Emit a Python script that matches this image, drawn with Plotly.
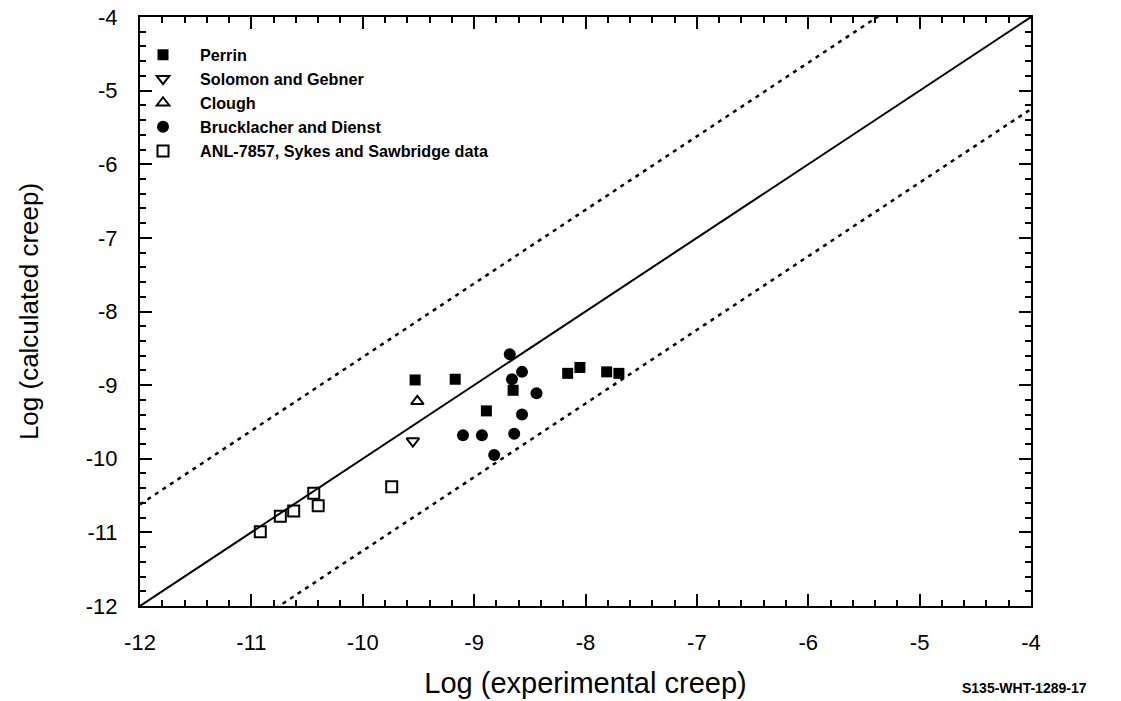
import plotly.graph_objects as go

# ---- data (log10 values) ----
perrin_x = [-9.53, -9.17, -8.89, -8.65, -8.16, -8.05, -7.81, -7.70]
perrin_y = [-8.93, -8.92, -9.35, -9.07, -8.84, -8.76, -8.82, -8.84]

solomon_x = [-9.55]
solomon_y = [-9.76]

clough_x = [-9.51]
clough_y = [-9.22]

bruck_x = [-8.68, -8.57, -8.66, -8.44, -8.57, -9.10, -8.93, -8.64, -8.82]
bruck_y = [-8.58, -8.82, -8.92, -9.11, -9.40, -9.68, -9.68, -9.66, -9.95]

anl_x = [-10.92, -10.74, -10.62, -10.44, -10.40, -9.74]
anl_y = [-10.99, -10.78, -10.71, -10.47, -10.64, -10.38]

ref_x = [-12, -4]
upper_offset = 1.38
lower_offset = -1.25

x_ticks = [-12, -11, -10, -9, -8, -7, -6, -5, -4]
y_ticks = [-12, -11, -10, -9, -8, -7, -6, -5, -4]

FONT = "Liberation Sans, Arial, Helvetica, sans-serif"

fig = go.Figure()

# reference lines
fig.add_trace(go.Scatter(x=ref_x, y=ref_x, mode="lines",
                         line=dict(color="black", width=2), showlegend=False, hoverinfo="skip"))
fig.add_trace(go.Scatter(x=ref_x, y=[v + upper_offset for v in ref_x], mode="lines",
                         line=dict(color="black", width=2.5, dash="4px,5px"), showlegend=False, hoverinfo="skip"))
fig.add_trace(go.Scatter(x=ref_x, y=[v + lower_offset for v in ref_x], mode="lines",
                         line=dict(color="black", width=2.5, dash="4px,5px"), showlegend=False, hoverinfo="skip"))

fig.add_trace(go.Scatter(x=perrin_x, y=perrin_y, mode="markers", name="Perrin",
                         marker=dict(symbol="square", size=11, color="black")))
fig.add_trace(go.Scatter(x=solomon_x, y=solomon_y, mode="markers", name="Solomon and Gebner",
                         marker=dict(symbol="triangle-down-open", size=11, color="black",
                                     line=dict(width=2, color="black"))))
fig.add_trace(go.Scatter(x=clough_x, y=clough_y, mode="markers", name="Clough",
                         marker=dict(symbol="triangle-up-open", size=11, color="black",
                                     line=dict(width=2, color="black"))))
fig.add_trace(go.Scatter(x=bruck_x, y=bruck_y, mode="markers", name="Brucklacher and Dienst",
                         marker=dict(symbol="circle", size=12, color="black")))
fig.add_trace(go.Scatter(x=anl_x, y=anl_y, mode="markers", name="ANL-7857, Sykes and Sawbridge data",
                         marker=dict(symbol="square-open", size=11, color="black",
                                     line=dict(width=2, color="black"))))

axis_common = dict(
    showgrid=False, zeroline=False, automargin=False,
    showline=True, linecolor="black", linewidth=2, mirror="allticks",
    ticks="inside", ticklen=12, tickwidth=2, tickcolor="black",
    tickfont=dict(family=FONT, size=22, color="black"),
    minor=dict(ticks="inside", ticklen=6, tickwidth=1.5, tickcolor="black", dtick=0.2, showgrid=False),
)

fig.update_xaxes(range=[-12, -4], tickvals=x_ticks, ticktext=[str(v) for v in x_ticks],
                 ticklabelstandoff=16,
                 title=dict(text="Log (experimental creep)", font=dict(family=FONT, size=29, color="black"),
                            standoff=18),
                 **axis_common)
fig.update_yaxes(range=[-12, -4], tickvals=y_ticks, ticktext=[str(v) for v in y_ticks],
                 ticklabelstandoff=16,
                 title=dict(text="Log (calculated creep)", font=dict(family=FONT, size=26, color="black"),
                            standoff=40),
                 **axis_common)

fig.add_annotation(text="<b>S135-WHT-1289-17</b>", xref="paper", yref="paper",
                   x=0.993, y=-0.139, xanchor="center", yanchor="middle", showarrow=False,
                   font=dict(family=FONT, size=14, color="black"))

fig.update_layout(
    width=1121, height=701,
    margin=dict(l=140, r=90, t=17, b=95, autoexpand=False),
    plot_bgcolor="white", paper_bgcolor="white",
    legend=dict(x=-0.0157, y=0.965, xanchor="left", yanchor="top",
                bgcolor="rgba(0,0,0,0)", borderwidth=0,
                font=dict(family=FONT, size=16.2, color="black", weight="bold"),
                itemwidth=64, tracegroupgap=0),
)

fig.write_html("out.html")
